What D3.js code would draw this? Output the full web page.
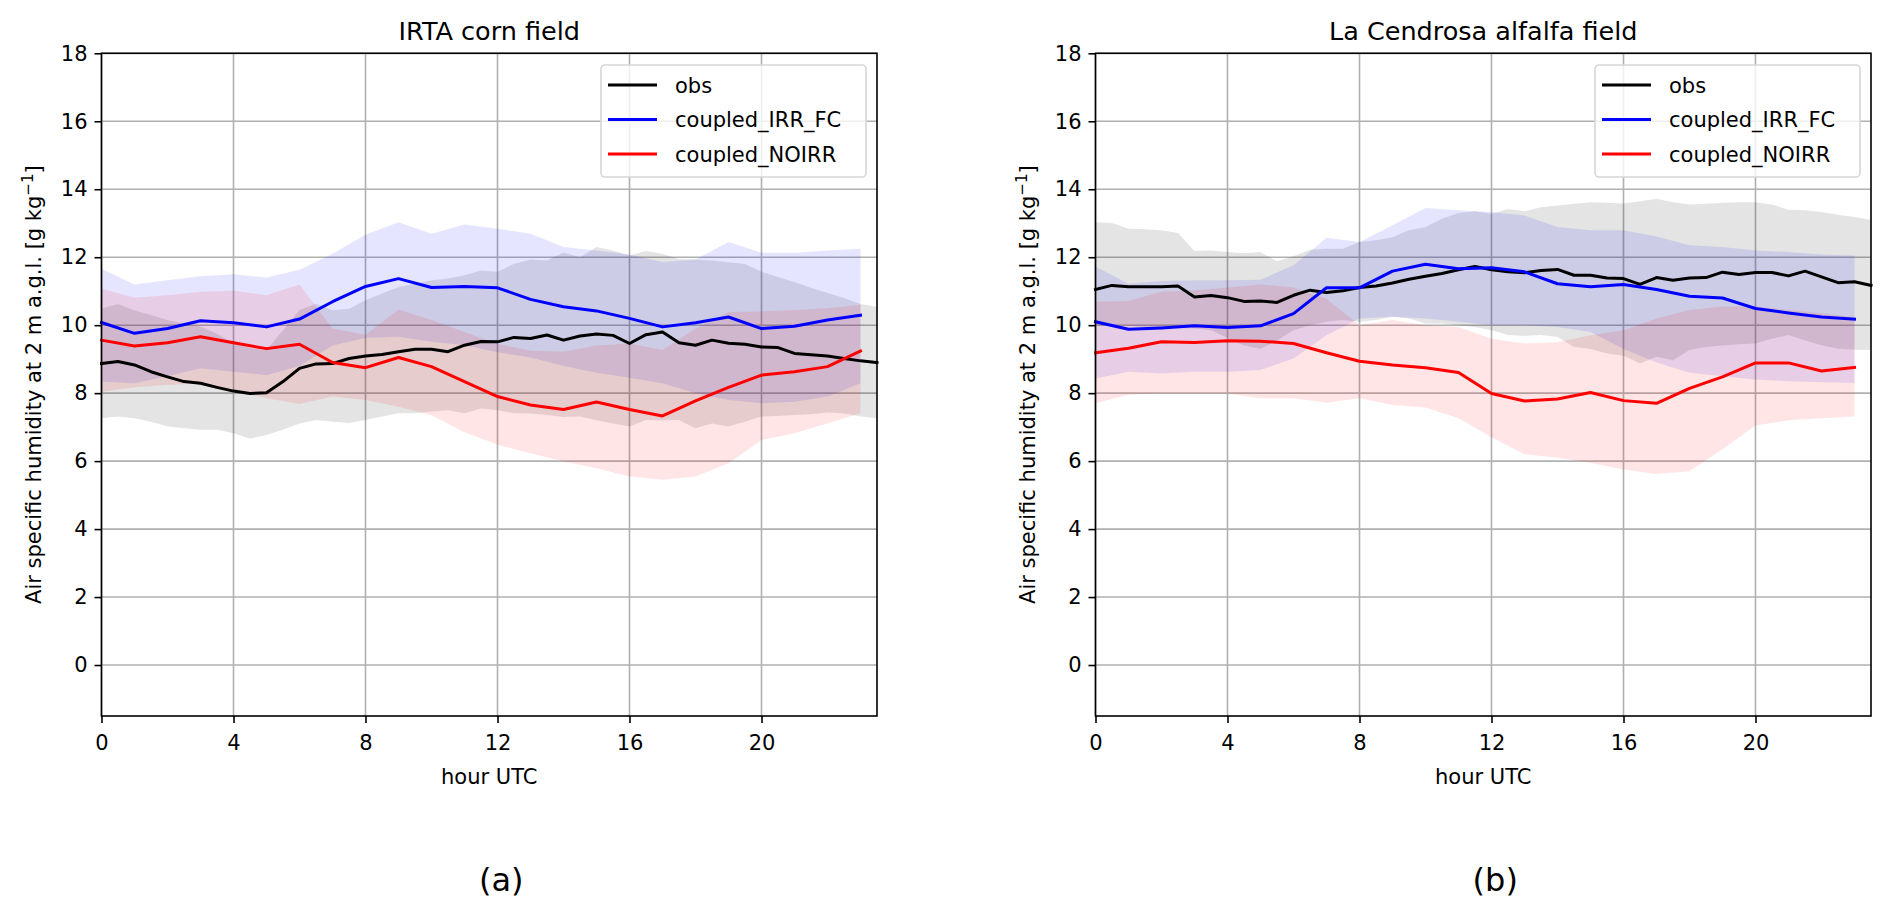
<!DOCTYPE html>
<html>
<head>
<meta charset="utf-8">
<script src="https://cdn.jsdelivr.net/npm/d3@7"></script>
<style>
  body { margin: 0; background: #fff; }
  svg { display: block; font-family: "DejaVu Sans", sans-serif; }
</style>
</head>
<body>
<svg id="chart" width="1892" height="916"></svg>
<script>
// half-hourly obs, hourly model output
var obsHours = d3.range(0, 24, 0.5)
var modelHours = d3.range(0, 24, 1)

var xTicks = [0, 4, 8, 12, 16, 20]
var yTicks = [0, 2, 4, 6, 8, 10, 12, 14, 16, 18]
var seriesNames = ["obs", "coupled_IRR_FC", "coupled_NOIRR"]
var seriesColors = ["#000000", "#0000ff", "#ff0000"]
var panelTitles = ["IRTA corn field", "La Cendrosa alfalfa field"]
var panelLetters = ["(a)", "(b)"]

// ---- IRTA corn field ----
var irtaObs = [8.87, 8.93, 8.83, 8.63, 8.48, 8.34, 8.29, 8.17, 8.06, 7.99, 8.01, 8.34,
  8.73, 8.86, 8.87, 9.02, 9.09, 9.14, 9.22, 9.29, 9.29, 9.22, 9.41, 9.52,
  9.51, 9.64, 9.61, 9.71, 9.56, 9.68, 9.74, 9.70, 9.46, 9.72, 9.80, 9.48,
  9.41, 9.56, 9.47, 9.44, 9.36, 9.34, 9.17, 9.13, 9.09, 9.02, 8.95, 8.90]
var irtaObsHi = [10.49, 10.62, 10.43, 10.30, 10.15, 10.05, 9.96, 9.75, 9.47, 9.33, 9.27, 9.85,
  10.45, 10.63, 10.44, 10.48, 10.73, 10.93, 11.12, 11.22, 11.32, 11.37, 11.47, 11.61,
  11.57, 11.81, 11.93, 11.90, 12.14, 12.00, 12.30, 12.20, 12.05, 12.18, 12.10, 11.95,
  11.93, 11.90, 11.85, 11.80, 11.57, 11.42, 11.27, 11.10, 10.95, 10.80, 10.62, 10.54]
var irtaObsLo = [7.26, 7.31, 7.26, 7.16, 7.02, 6.97, 6.92, 6.92, 6.82, 6.66, 6.77, 6.92,
  7.11, 7.21, 7.16, 7.12, 7.21, 7.31, 7.41, 7.41, 7.46, 7.50, 7.41, 7.55,
  7.50, 7.41, 7.40, 7.36, 7.30, 7.31, 7.20, 7.11, 7.02, 7.21, 7.20, 7.21,
  6.97, 7.11, 7.02, 7.16, 7.31, 7.33, 7.36, 7.38, 7.43, 7.40, 7.31, 7.26]
var irtaIrr = [10.08, 9.76, 9.90, 10.13, 10.07, 9.95, 10.18, 10.69, 11.14, 11.37, 11.11, 11.14,
  11.10, 10.76, 10.54, 10.42, 10.20, 9.95, 10.07, 10.24, 9.90, 9.97, 10.15, 10.29]
var irtaIrrHi = [11.66, 11.20, 11.32, 11.44, 11.50, 11.40, 11.63, 12.10, 12.66, 13.03, 12.69, 12.96,
  12.84, 12.69, 12.30, 12.20, 12.08, 11.86, 11.93, 12.45, 12.13, 12.13, 12.20, 12.25]
var irtaIrrLo = [8.34, 8.29, 8.50, 8.73, 8.63, 8.53, 8.80, 9.40, 9.62, 9.66, 9.51, 9.41,
  9.20, 9.05, 8.80, 8.60, 8.45, 8.29, 8.00, 7.80, 7.70, 7.75, 7.90, 8.29]
var irtaNoirr = [9.56, 9.39, 9.48, 9.66, 9.48, 9.31, 9.44, 8.90, 8.75, 9.05, 8.78, 8.34,
  7.90, 7.65, 7.52, 7.74, 7.52, 7.33, 7.77, 8.17, 8.53, 8.63, 8.78, 9.24]
var irtaNoirrHi = [11.08, 10.81, 10.88, 10.98, 11.01, 10.88, 11.20, 9.90, 9.72, 10.46, 10.15, 9.80,
  9.45, 9.25, 9.22, 9.40, 9.46, 9.27, 9.90, 10.39, 10.40, 10.45, 10.50, 10.60]
var irtaNoirrLo = [8.04, 8.17, 8.24, 8.29, 8.09, 7.85, 7.68, 7.90, 7.80, 7.60, 7.35, 6.85,
  6.48, 6.23, 5.99, 5.79, 5.55, 5.45, 5.55, 5.94, 6.62, 6.82, 7.11, 7.41]

// ---- La Cendrosa alfalfa field ----
var cendObs = [11.05, 11.17, 11.13, 11.13, 11.13, 11.15, 10.83, 10.87, 10.81, 10.70, 10.71, 10.67,
  10.88, 11.03, 10.96, 11.01, 11.11, 11.15, 11.24, 11.35, 11.44, 11.52, 11.63, 11.73,
  11.63, 11.57, 11.54, 11.61, 11.64, 11.47, 11.47, 11.39, 11.37, 11.20, 11.40, 11.32,
  11.39, 11.40, 11.56, 11.49, 11.55, 11.55, 11.45, 11.59, 11.42, 11.25, 11.28, 11.17]
var cendObsHi = [13.03, 13.01, 12.84, 12.82, 12.79, 12.71, 12.18, 12.20, 12.15, 12.12, 12.15, 11.88,
  12.03, 12.22, 12.25, 12.25, 12.45, 12.50, 12.59, 12.79, 12.89, 13.13, 13.30, 13.35,
  13.28, 13.42, 13.35, 13.47, 13.52, 13.57, 13.62, 13.60, 13.58, 13.65, 13.72, 13.62,
  13.55, 13.57, 13.60, 13.62, 13.62, 13.55, 13.40, 13.38, 13.33, 13.25, 13.18, 13.10]
var cendObsLo = [10.00, 10.00, 9.98, 9.95, 9.95, 9.92, 9.90, 9.85, 9.62, 9.40, 9.31, 9.55,
  9.85, 10.00, 10.10, 10.15, 10.10, 10.15, 10.25, 10.20, 10.05, 10.05, 10.00, 9.95,
  9.85, 9.71, 9.68, 9.71, 9.65, 9.36, 9.30, 9.17, 9.10, 8.87, 9.07, 8.97,
  9.27, 9.36, 9.40, 9.44, 9.46, 9.60, 9.71, 9.55, 9.41, 9.31, 9.28, 9.27]
var cendIrr = [10.10, 9.88, 9.92, 9.98, 9.93, 9.98, 10.34, 11.10, 11.10, 11.59, 11.79, 11.66,
  11.69, 11.57, 11.22, 11.13, 11.20, 11.05, 10.85, 10.80, 10.49, 10.36, 10.24, 10.18]
var cendIrrHi = [11.73, 11.22, 11.30, 11.32, 11.32, 11.34, 11.76, 12.57, 12.45, 12.94, 13.45, 13.38,
  13.33, 13.23, 12.89, 12.79, 12.79, 12.61, 12.35, 12.30, 12.20, 12.15, 12.08, 12.05]
var cendIrrLo = [8.43, 8.63, 8.58, 8.63, 8.63, 8.68, 9.02, 9.70, 10.20, 10.25, 10.20, 10.10,
  10.00, 10.00, 9.95, 9.80, 9.30, 8.90, 8.60, 8.50, 8.40, 8.35, 8.32, 8.30]
var cendNoirr = [9.19, 9.32, 9.51, 9.49, 9.54, 9.53, 9.46, 9.19, 8.94, 8.83, 8.75, 8.61,
  7.99, 7.77, 7.83, 8.02, 7.78, 7.70, 8.14, 8.48, 8.89, 8.89, 8.65, 8.76]
var cendNoirrHi = [10.69, 10.71, 10.98, 11.03, 11.11, 11.20, 11.11, 10.78, 10.00, 10.15, 10.00, 9.95,
  9.60, 9.46, 9.50, 9.70, 9.85, 10.20, 10.45, 10.55, 10.55, 10.45, 10.35, 10.24]
var cendNoirrLo = [7.70, 7.95, 7.99, 7.99, 7.99, 7.85, 7.85, 7.72, 7.85, 7.65, 7.58, 7.26,
  6.70, 6.20, 6.10, 5.95, 5.75, 5.62, 5.70, 6.35, 7.05, 7.20, 7.26, 7.31]

var panels = [
  { left: 101.5, obs: irtaObs, obsHi: irtaObsHi, obsLo: irtaObsLo,
    irr: irtaIrr, irrHi: irtaIrrHi, irrLo: irtaIrrLo,
    noirr: irtaNoirr, noirrHi: irtaNoirrHi, noirrLo: irtaNoirrLo },
  { left: 1095.5, obs: cendObs, obsHi: cendObsHi, obsLo: cendObsLo,
    irr: cendIrr, irrHi: cendIrrHi, irrLo: cendIrrLo,
    noirr: cendNoirr, noirrHi: cendNoirrHi, noirrLo: cendNoirrLo }
]

var svg = d3.select("#chart")
var plotW = 775.5
var plotTop = 53.3
var plotBottom = 716
var fontSize = 21

var draw = function(p, k){
  var g = svg.append("g")
  var x = d3.scaleLinear().domain([0, 23.5]).range([p.left, p.left + plotW])
  var y = d3.scaleLinear().domain([-1.5, 18]).range([plotBottom, plotTop])

  // grid
  g.selectAll(".gx").data(xTicks).enter().append("line")
    .attr("x1", function(d){ return x(d) }).attr("x2", function(d){ return x(d) })
    .attr("y1", plotTop).attr("y2", plotBottom)
    .attr("stroke", "#b0b0b0").attr("stroke-width", 1.6)
  g.selectAll(".gy").data(yTicks).enter().append("line")
    .attr("x1", p.left).attr("x2", p.left + plotW)
    .attr("y1", function(d){ return y(d) }).attr("y2", function(d){ return y(d) })
    .attr("stroke", "#b0b0b0").attr("stroke-width", 1.6)

  var band = function(xs, lo, hi, color, op){
    var area = d3.area()
      .x(function(d, i){ return x(xs[i]) })
      .y0(function(d, i){ return y(lo[i]) })
      .y1(function(d, i){ return y(hi[i]) })
    g.append("path").datum(xs).attr("d", area)
      .attr("fill", color).attr("fill-opacity", op)
  }
  band(obsHours, p.obsLo, p.obsHi, "#000000", 0.105)
  band(modelHours, p.irrLo, p.irrHi, "#0000ff", 0.1)
  band(modelHours, p.noirrLo, p.noirrHi, "#ff0000", 0.1)

  var line = function(xs, vals, color){
    var ln = d3.line()
      .x(function(d, i){ return x(xs[i]) })
      .y(function(d){ return y(d) })
    g.append("path").datum(vals).attr("d", ln)
      .attr("fill", "none").attr("stroke", color).attr("stroke-width", 3)
      .attr("stroke-linejoin", "round").attr("stroke-linecap", "square")
  }
  line(obsHours, p.obs, seriesColors[0])
  line(modelHours, p.irr, seriesColors[1])
  line(modelHours, p.noirr, seriesColors[2])

  // axes
  var xAxis = d3.axisBottom(x).tickValues(xTicks).tickSize(7).tickPadding(7)
  var yAxis = d3.axisLeft(y).tickValues(yTicks).tickSize(7).tickPadding(7)
  var ax = g.append("g").attr("transform", "translate(0," + plotBottom + ")").call(xAxis)
  var ay = g.append("g").attr("transform", "translate(" + p.left + ",0)").call(yAxis)
  ;[ax, ay].forEach(function(a){
    a.select(".domain").remove()
    a.selectAll("line").attr("stroke", "#000").attr("stroke-width", 1.6)
    a.selectAll("text").attr("fill", "#000").style("font-size", fontSize + "px")
      .style("font-family", "DejaVu Sans")
  })
  ax.selectAll("text").attr("dy", "0.95em")

  g.append("rect").attr("x", p.left).attr("y", plotTop)
    .attr("width", plotW).attr("height", plotBottom - plotTop)
    .attr("fill", "none").attr("stroke", "#000").attr("stroke-width", 1.6)

  // titles and labels
  g.append("text").attr("x", p.left + plotW / 2).attr("y", 40)
    .attr("text-anchor", "middle").style("font-size", "25.5px")
    .text(panelTitles[k])
  g.append("text").attr("x", p.left + plotW / 2).attr("y", 784)
    .attr("text-anchor", "middle").style("font-size", fontSize + "px")
    .text("hour UTC")
  var yl = g.append("text")
    .attr("transform", "translate(" + (p.left - 61) + "," + ((plotTop + plotBottom) / 2) + ") rotate(-90)")
    .attr("text-anchor", "middle").style("font-size", fontSize + "px")
  yl.append("tspan").text("Air specific humidity at 2 m a.g.l. [g kg")
  yl.append("tspan").attr("dy", -8).style("font-size", "15px").text("\u22121")
  yl.append("tspan").attr("dy", 8).text("]")
  g.append("text").attr("x", p.left + plotW / 2 + 12).attr("y", 891)
    .attr("text-anchor", "middle").style("font-size", "32px")
    .text(panelLetters[k])

  // legend
  var lx = p.left + 499.5
  var lg = g.append("g")
  lg.append("rect").attr("x", lx).attr("y", 65).attr("width", 265).attr("height", 112)
    .attr("rx", 4).attr("fill", "#fff").attr("fill-opacity", 0.8)
    .attr("stroke", "#d6d6d6").attr("stroke-width", 1.6)
  seriesNames.forEach(function(name, i){
    var ly = 85 + i * 34.5
    lg.append("line").attr("x1", lx + 7).attr("x2", lx + 56)
      .attr("y1", ly).attr("y2", ly)
      .attr("stroke", seriesColors[i]).attr("stroke-width", 3)
    lg.append("text").attr("x", lx + 74).attr("y", ly)
      .attr("dy", "0.36em").style("font-size", fontSize + "px").text(name)
  })
}

panels.forEach(draw)
</script>
</body>
</html>
